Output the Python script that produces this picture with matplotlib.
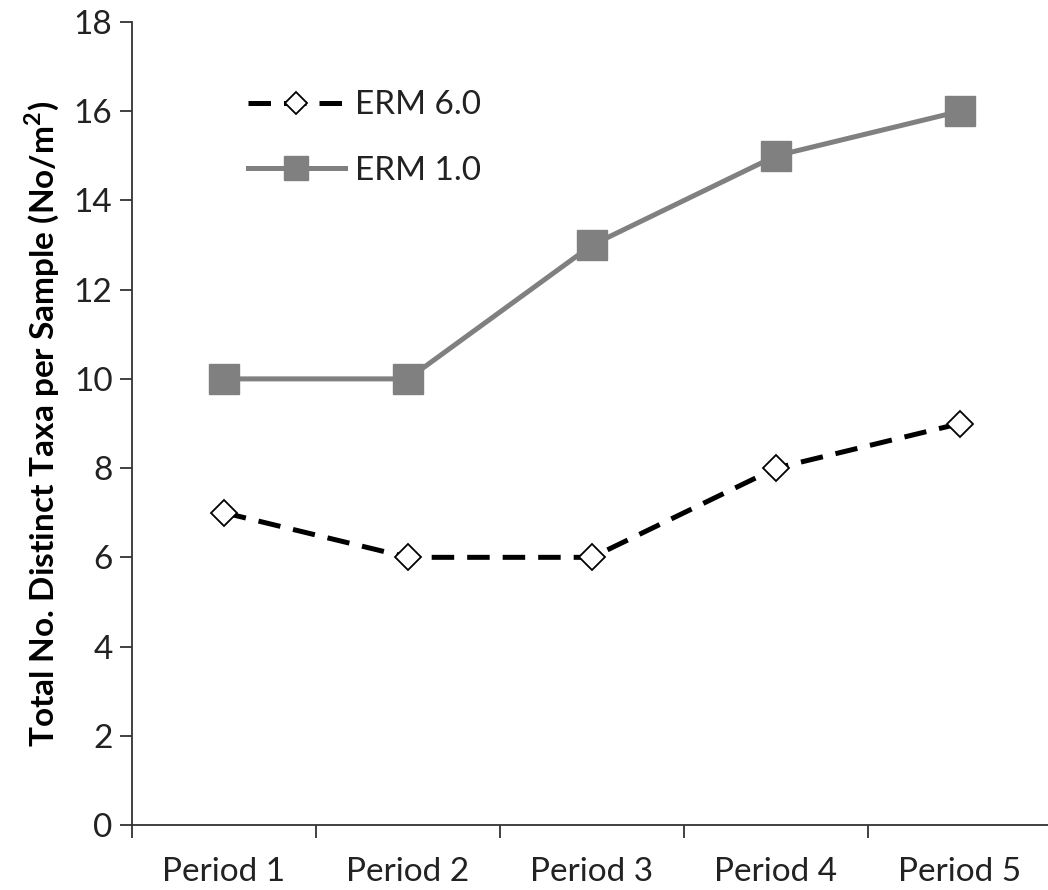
import matplotlib
matplotlib.use("Agg")
import matplotlib.pyplot as plt

categories = ["Period 1", "Period 2", "Period 3", "Period 4", "Period 5"]
erm60 = [7, 6, 6, 8, 9]
erm10 = [10, 10, 13, 15, 16]
yticks = [0, 2, 4, 6, 8, 10, 12, 14, 16, 18]

plt.rcParams['font.family'] = ['Lato', 'DejaVu Sans']

W, H = 1048, 890
fig = plt.figure(figsize=(W / 100, H / 100), dpi=100)
ax = fig.add_axes([132 / W, (H - 825) / H, (W - 132) / W, (825 - 22) / H])

x = list(range(len(categories)))
ax.plot(x, erm60, color='black', lw=3.6, dashes=(4.5, 2.6),
        marker='D', markersize=13, markerfacecolor='white',
        markeredgecolor='black', markeredgewidth=1.3, label='ERM 6.0', zorder=3)
ax.plot(x, erm10, color='#808080', lw=3.6, marker='s', markersize=21,
        markerfacecolor='#808080', markeredgecolor='#808080', label='ERM 1.0', zorder=2)

ax.set_xlim(-0.5, 4.478)
ax.set_ylim(0, 18)
ax.set_yticks(yticks)
ax.set_xticks([i - 0.5 for i in range(5)], minor=False)
ax.set_xticklabels([])
ax.set_xticks(x, minor=True)
ax.set_xticklabels(categories, minor=True, fontsize=24, color='#222222')
ax.tick_params(axis='x', which='minor', length=0, pad=23)
ax.tick_params(axis='x', which='major', length=9, width=1.3, direction='out', color='#333333')
ax.tick_params(axis='y', length=9, width=1.3, direction='out', labelsize=24,
               labelcolor='#222222', color='#333333', pad=5)

for s in ['top', 'right']:
    ax.spines[s].set_visible(False)
for s in ['left', 'bottom']:
    ax.spines[s].set_linewidth(1.3)
    ax.spines[s].set_color('#333333')

ax.set_ylabel('Total No. Distinct Taxa per Sample (No/m$^\\mathregular{2}$)',
              fontsize=24, fontweight='bold', labelpad=9)

leg = ax.legend(loc='upper left', bbox_to_anchor=(0.1266, 0.915), frameon=False,
                fontsize=24, handlelength=2.9, labelspacing=1.07, handletextpad=0.3,
                borderpad=0, borderaxespad=0, markerscale=0.85)
for t in leg.get_texts():
    t.set_color('#222222')

fig.savefig('out.png', dpi=100)
